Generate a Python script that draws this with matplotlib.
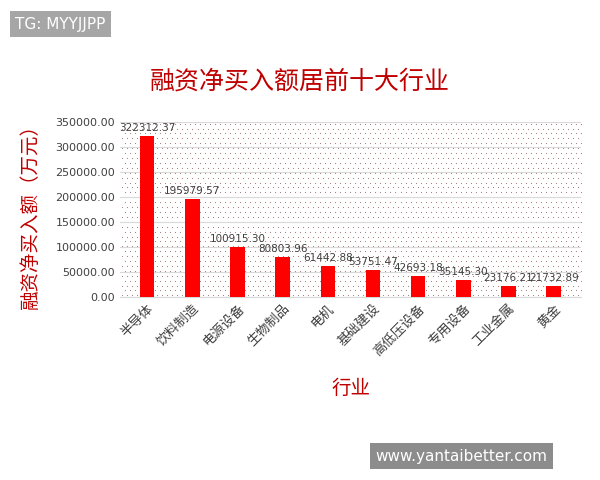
import numpy as np
import matplotlib.pyplot as plt

plt.rcParams['font.family'] = ['Noto Sans CJK SC', 'DejaVu Sans']

industries = ['半导体', '饮料制造', '电源设备', '生物制品', '电机', '基础建设',
              '高低压设备', '专用设备', '工业金属', '黄金']
net_buy = [322312.37, 195979.57, 100915.30, 80803.96, 61442.88, 53751.47,
           42693.18, 35145.30, 23176.21, 21732.89]

fig = plt.figure(figsize=(6, 4.8), dpi=100)
ax = fig.add_axes([0.2, 0.381, 0.768, 0.365])

# dotted plot-area texture (staggered dot grid, in axes coordinates)
gx, gy = np.meshgrid(np.linspace(0.005, 0.995, 92), np.linspace(0.01, 0.99, 36))
gx[1::2] += 0.0054
ax.scatter(gx.ravel(), gy.ravel(), s=0.6, color='#a07070', linewidths=0,
           transform=ax.transAxes, zorder=0)

x = range(len(industries))
ax.bar(x, net_buy, width=0.32, color='#ff0000', zorder=3)
for i, v in enumerate(net_buy):
    ax.text(i, v + 6000, f'{v:.2f}', ha='center', va='bottom', fontsize=7.5,
            color='#404040', family='DejaVu Sans', zorder=4)

ax.set_xlim(-0.6, len(industries) - 0.4)
ax.set_ylim(0, 350000)
ax.set_yticks(range(0, 350001, 50000))
ax.set_yticklabels([f'{t:.2f}' for t in range(0, 350001, 50000)], fontsize=8,
                   color='#404040', family='DejaVu Sans')
ax.set_xticks(list(x))
ax.set_xticklabels(industries, rotation=45, ha='right', rotation_mode='anchor',
                   fontsize=9.5, color='#404040')
ax.yaxis.grid(True, color='#d9d9d9', linewidth=0.8, zorder=1)
ax.tick_params(length=0)
for s in ['top', 'right', 'left']:
    ax.spines[s].set_visible(False)
ax.spines['bottom'].set_color('#d9d9d9')

fig.text(0.5, 0.83, '融资净买入额居前十大行业', ha='center', va='center',
         fontsize=18, color='#c00000')
fig.text(0.05, 0.56, '融资净买入额（万元）', rotation=90, ha='center', va='center',
         fontsize=14, color='#c00000')
fig.text(0.585, 0.19, '行业', ha='center', va='center', fontsize=14, color='#c00000')

# watermarks
fig.text(0.025, 0.95, 'TG: MYYJJPP', fontsize=11, color='white', va='center',
         family='DejaVu Sans', bbox=dict(facecolor='#a6a6a6', edgecolor='none', pad=4))
fig.text(0.625, 0.05, 'www.yantaibetter.com', fontsize=11, color='white', va='center',
         family='DejaVu Sans', bbox=dict(facecolor='#8c8c8c', edgecolor='none', pad=4))

fig.savefig('out.png', dpi=100)
